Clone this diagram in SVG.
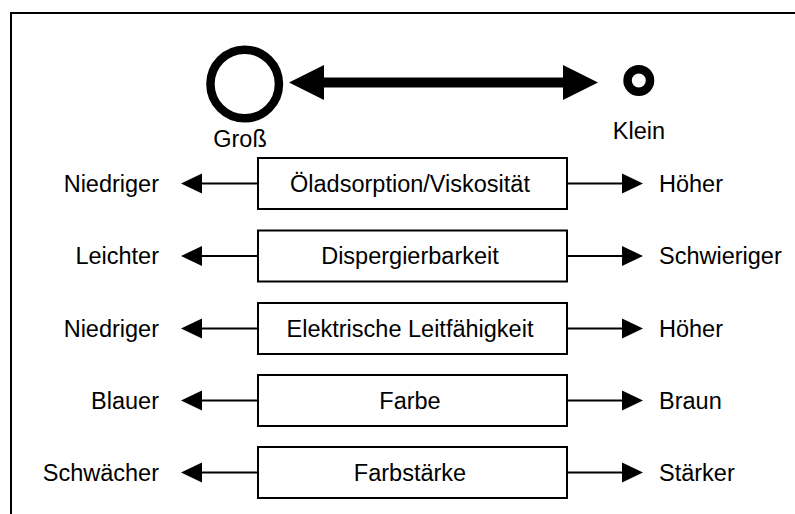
<svg xmlns="http://www.w3.org/2000/svg" width="795" height="514" viewBox="0 0 795 514">
<style>
text{font-family:"Liberation Sans",Arial,sans-serif;font-size:23.5px;fill:#000}
.c{text-anchor:middle}.l{text-anchor:end}.r{text-anchor:start}
.box{fill:#fff;stroke:#000;stroke-width:2}
.ln{stroke:#000;stroke-width:2;fill:none}
.ah{fill:#000}
</style>
<rect x="0" y="0" width="795" height="514" fill="#fff"/>
<rect x="11" y="13" width="800" height="520" fill="none" stroke="#000" stroke-width="2"/>
<g id="gross">
<circle cx="244.7" cy="84" r="34.25" fill="none" stroke="#000" stroke-width="8.5"/>
<text class="c" x="240" y="147">Groß</text>
</g>
<g id="klein">
<circle cx="638.8" cy="80.5" r="11.25" fill="none" stroke="#000" stroke-width="8.5"/>
<text class="c" x="639" y="139">Klein</text>
</g>
<g id="row1"><rect class="box" x="258" y="158" width="309" height="51"/><text class="c" x="410" y="191.5">Öladsorption/Viskosität</text></g>
<g id="row2"><rect class="box" x="258" y="230.5" width="309" height="51"/><text class="c" x="410" y="264">Dispergierbarkeit</text></g>
<g id="row3"><rect class="box" x="258" y="303" width="309" height="51"/><text class="c" x="410" y="336.5">Elektrische Leitfähigkeit</text></g>
<g id="row4"><rect class="box" x="258" y="375" width="309" height="51"/><text class="c" x="410" y="408.5">Farbe</text></g>
<g id="row5"><rect class="box" x="258" y="447" width="309" height="51"/><text class="c" x="410" y="480.5">Farbstärke</text></g>
<g id="labels">
<text class="l" x="159" y="191.5">Niedriger</text><text class="r" x="659" y="191.5">Höher</text>
<text class="l" x="159" y="264">Leichter</text><text class="r" x="659" y="264">Schwieriger</text>
<text class="l" x="159" y="336.5">Niedriger</text><text class="r" x="659" y="336.5">Höher</text>
<text class="l" x="159" y="408.5">Blauer</text><text class="r" x="659" y="408.5">Braun</text>
<text class="l" x="159" y="480.5">Schwächer</text><text class="r" x="659" y="480.5">Stärker</text>
</g>
<g id="connectors">
<line x1="322" y1="82.5" x2="566" y2="82.5" stroke="#000" stroke-width="10"/>
<polygon class="ah" points="289,82.5 324,65 324,100"/>
<polygon class="ah" points="598,82.5 563,65 563,100"/>
<g id="c1"><line class="ln" x1="201" y1="183.5" x2="258" y2="183.5"/><polygon class="ah" points="181,183.5 202,173.5 202,193.5"/><line class="ln" x1="567" y1="183.5" x2="624" y2="183.5"/><polygon class="ah" points="643,183.5 622,173.5 622,193.5"/></g>
<g id="c2"><line class="ln" x1="201" y1="256" x2="258" y2="256"/><polygon class="ah" points="181,256 202,246 202,266"/><line class="ln" x1="567" y1="256" x2="624" y2="256"/><polygon class="ah" points="643,256 622,246 622,266"/></g>
<g id="c3"><line class="ln" x1="201" y1="328.5" x2="258" y2="328.5"/><polygon class="ah" points="181,328.5 202,318.5 202,338.5"/><line class="ln" x1="567" y1="328.5" x2="624" y2="328.5"/><polygon class="ah" points="643,328.5 622,318.5 622,338.5"/></g>
<g id="c4"><line class="ln" x1="201" y1="400.5" x2="258" y2="400.5"/><polygon class="ah" points="181,400.5 202,390.5 202,410.5"/><line class="ln" x1="567" y1="400.5" x2="624" y2="400.5"/><polygon class="ah" points="643,400.5 622,390.5 622,410.5"/></g>
<g id="c5"><line class="ln" x1="201" y1="472.5" x2="258" y2="472.5"/><polygon class="ah" points="181,472.5 202,462.5 202,482.5"/><line class="ln" x1="567" y1="472.5" x2="624" y2="472.5"/><polygon class="ah" points="643,472.5 622,462.5 622,482.5"/></g>
</g>
</svg>
